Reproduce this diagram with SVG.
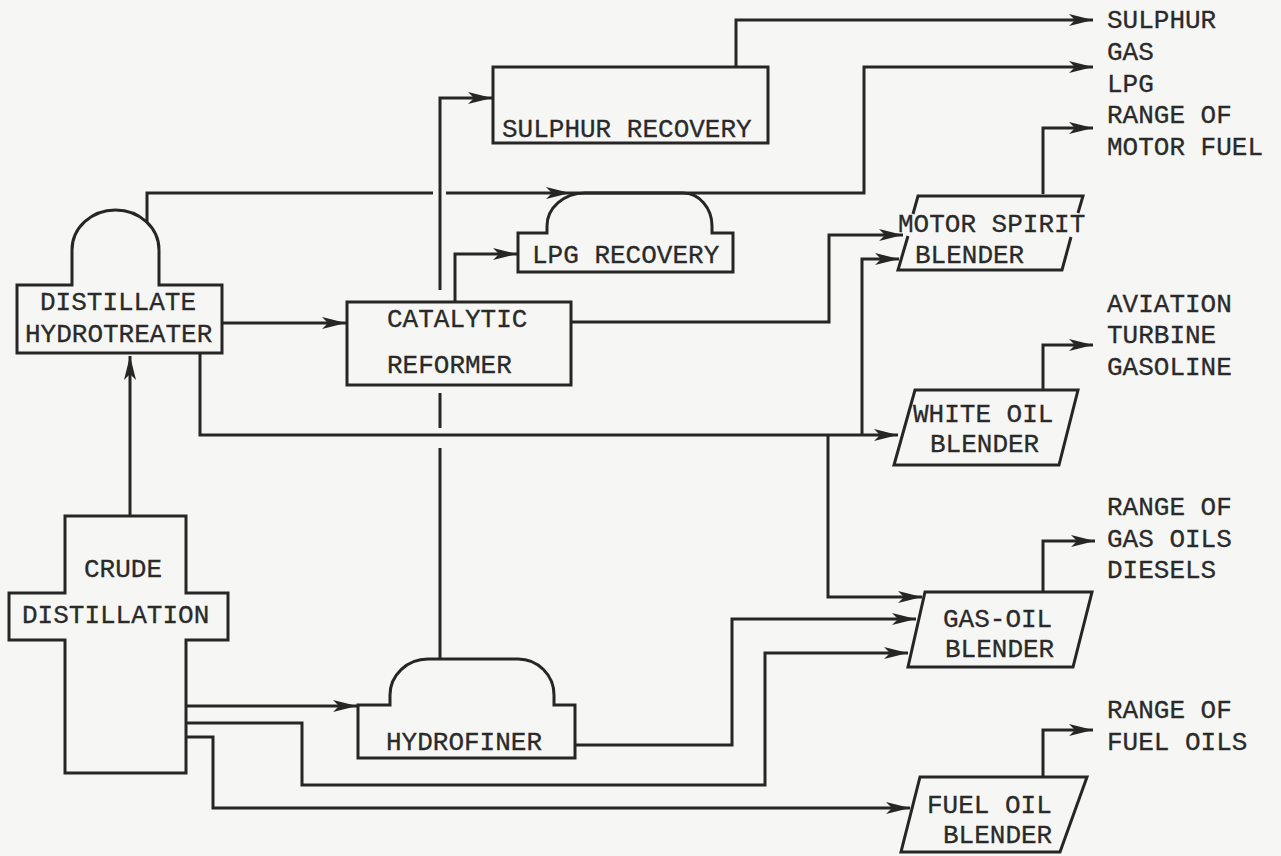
<svg xmlns="http://www.w3.org/2000/svg" width="1281" height="856" viewBox="0 0 1281 856">
<style>
.bg{fill:#f6f6f4}
.node{fill:none;stroke:#262626;stroke-width:3;stroke-linejoin:miter}
.ln{fill:none;stroke:#262626;stroke-width:3}
.arr{marker-end:url(#ah)}
text{font-family:"Liberation Mono","Courier New",monospace;font-size:26px;fill:#2a2a2a;stroke:#2a2a2a;stroke-width:0.3}
</style>
<defs>
<marker id="ah" markerUnits="userSpaceOnUse" markerWidth="26" markerHeight="14" refX="24" refY="7" orient="auto">
<path d="M0,1 L24,7 L0,13 L6,7 Z" fill="#262626"/>
</marker>
</defs>
<rect class="bg" x="0" y="0" width="1281" height="856"/>

<g id="connectors">
<path class="ln arr" d="M130,516 V356"/>
<path class="ln arr" d="M222,323 H346"/>
<path class="ln" d="M147,223 V193 H433"/>
<path class="ln arr" d="M446,193 H570"/>
<path class="ln arr" d="M570,193 H864 V67 H1093"/>
<path class="ln arr" d="M440,290 V98 H492"/>
<path class="ln arr" d="M455,302 V254 H517"/>
<path class="ln arr" d="M736,67 V20 H1093"/>
<path class="ln arr" d="M571,322 H829 V235 H903"/>
<path class="ln arr" d="M200,353 V435 H898"/>
<path class="ln arr" d="M862,435 V259 H899"/>
<path class="ln arr" d="M828,435 V597 H922"/>
<path class="ln arr" d="M1043,194 V128 H1093"/>
<path class="ln arr" d="M1043,390 V345 H1093"/>
<path class="ln arr" d="M1043,592 V541 H1095"/>
<path class="ln arr" d="M1043,777 V730 H1093"/>
<path class="ln arr" d="M186,706 H357"/>
<path class="ln arr" d="M186,723 H302 V785 H765 V653 H908"/>
<path class="ln arr" d="M186,737 H213 V808 H910"/>
<path class="ln arr" d="M575,745 H732 V619 H916"/>
<path class="ln" d="M440,659 V448"/>
<path class="ln" d="M440,428 V393"/>
</g>

<g id="distillate-hydrotreater">
<path class="node" d="M17,285 H72 V250 A43.5,40 0 0 1 159,250 V285 H222 V353 H17 Z"/>
<text x="40" y="310">DISTILLATE</text>
<text x="25" y="342">HYDROTREATER</text>
</g>

<g id="catalytic-reformer">
<rect class="node" x="347" y="302" width="224" height="83"/>
<text x="387" y="327">CATALYTIC</text>
<text x="387" y="373">REFORMER</text>
</g>

<g id="sulphur-recovery">
<rect class="node" x="493" y="67" width="275" height="76"/>
<text x="502" y="137">SULPHUR RECOVERY</text>
</g>

<g id="lpg-recovery">
<path class="node" d="M518,233 H547 V226 A38,33 0 0 1 585,193 H683 A29,33 0 0 1 712,226 V233 H733 V272 H518 Z"/>
<text x="532" y="263">LPG RECOVERY</text>
</g>

<g id="motor-spirit-blender">
<path class="node" d="M908,236 L898,270 H1062 L1071,237"/>
<path class="node" d="M913,214 L918,196 H1083 L1078,213"/>
<text x="898" y="232">MOTOR SPIRIT</text>
<text x="915" y="263">BLENDER</text>
</g>

<g id="white-oil-blender">
<path class="node" d="M915,390 H1078 L1059,465 H894 Z"/>
<text x="913" y="422">WHITE OIL</text>
<text x="930" y="452">BLENDER</text>
</g>

<g id="gas-oil-blender">
<path class="node" d="M925,592 H1092 L1073,667 H908 Z"/>
<text x="943" y="627">GAS-OIL</text>
<text x="945" y="657">BLENDER</text>
</g>

<g id="fuel-oil-blender">
<path class="node" d="M920,777 H1087 L1060,852 H901 Z"/>
<text x="927" y="813">FUEL OIL</text>
<text x="943" y="843">BLENDER</text>
</g>

<g id="crude-distillation">
<path class="node" d="M65,516 H186 V593 H228 V640 H186 V773 H65 V640 H9 V593 H65 Z"/>
<text x="84" y="577">CRUDE</text>
<text x="22" y="623">DISTILLATION</text>
</g>

<g id="hydrofiner">
<path class="node" d="M358,705 H390 V695 A38,36 0 0 1 428,659 H518 A36,36 0 0 1 554,695 V705 H575 V758 H358 Z"/>
<text x="386" y="750">HYDROFINER</text>
</g>

<g id="products">
<text x="1107" y="28">SULPHUR</text>
<text x="1107" y="60">GAS</text>
<text x="1107" y="92">LPG</text>
<text x="1107" y="123">RANGE OF</text>
<text x="1107" y="155">MOTOR FUEL</text>
<text x="1107" y="312">AVIATION</text>
<text x="1107" y="343">TURBINE</text>
<text x="1107" y="375">GASOLINE</text>
<text x="1107" y="515">RANGE OF</text>
<text x="1107" y="547">GAS OILS</text>
<text x="1107" y="578">DIESELS</text>
<text x="1107" y="718">RANGE OF</text>
<text x="1107" y="750">FUEL OILS</text>
</g>
</svg>
